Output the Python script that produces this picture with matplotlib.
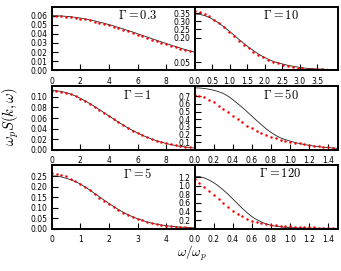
import matplotlib.pyplot as plt

plt.rcParams.update({'font.size': 5.5, 'mathtext.fontset': 'cm'})

# sample positions (omega / omega_p)
x_wide = [0, 0.33, 0.67, 1.0, 1.33, 1.67, 2.0, 2.33, 2.67, 3.0, 3.33, 3.67, 4.0, 4.33, 4.67, 5.0,
          5.33, 5.67, 6.0, 6.33, 6.67, 7.0, 7.33, 7.67, 8.0, 8.33, 8.67, 9.0, 9.33, 9.67, 10.0]
x_g5 = [0, 0.17, 0.33, 0.5, 0.67, 0.83, 1.0, 1.17, 1.33, 1.5, 1.67, 1.83, 2.0, 2.17, 2.33, 2.5,
        2.67, 2.83, 3.0, 3.17, 3.33, 3.5, 3.67, 3.83, 4.0, 4.17, 4.33, 4.5, 4.67, 4.83, 5.0]
x_g10 = [0, 0.14, 0.28, 0.42, 0.56, 0.70, 0.84, 0.98, 1.12, 1.26, 1.40, 1.54, 1.68, 1.82, 1.96,
         2.10, 2.24, 2.38, 2.52, 2.66, 2.80, 2.94, 3.08, 3.22, 3.36, 3.50, 3.64, 3.78, 3.92, 4.06]
x_narrow = [0, 0.05, 0.10, 0.15, 0.20, 0.25, 0.30, 0.35, 0.40, 0.45, 0.50, 0.55, 0.60, 0.65, 0.70,
            0.75, 0.80, 0.85, 0.90, 0.95, 1.00, 1.05, 1.10, 1.15, 1.20, 1.25, 1.30, 1.35, 1.40, 1.45, 1.50]

# Gamma = 0.3
g03_model = [.0600, .0599, .0597, .0593, .0588, .0582, .0574, .0565, .0554, .0543, .0530, .0517, .0502, .0487, .0471, .0455,
             .0437, .0420, .0402, .0384, .0366, .0348, .0330, .0312, .0295, .0277, .0260, .0244, .0228, .0212, .0198]
g03_sim = [.0595, .0594, .0592, .0588, .0583, .0576, .0568, .0559, .0548, .0536, .0523, .0509, .0494, .0478, .0462, .0445,
           .0428, .0410, .0392, .0374, .0356, .0338, .0320, .0303, .0286, .0269, .0253, .0237, .0222, .0207, .0193]
# Gamma = 1
g1_model = [.1120, .1116, .1103, .1082, .1053, .1016, .0974, .0926, .0873, .0818, .0759, .0700, .0640, .0581, .0523, .0467,
            .0414, .0364, .0318, .0276, .0237, .0202, .0171, .0144, .0120, .0099, .0081, .0066, .0053, .0043, .0034]
g1_sim = [.1115, .1112, .1100, .1079, .1049, .1012, .0969, .0920, .0867, .0811, .0752, .0693, .0634, .0575, .0518, .0463,
          .0411, .0362, .0317, .0275, .0237, .0203, .0173, .0146, .0122, .0102, .0084, .0069, .0056, .0046, .0037]
# Gamma = 5
g5_model = [.253, .252, .248, .242, .234, .225, .214, .200, .185, .169, .153, .137, .121, .106, .092, .079,
            .067, .057, .048, .040, .032, .0265, .0215, .0175, .014, .0115, .0095, .0078, .0064, .0053, .0044]
g5_sim = [.265, .263, .258, .250, .240, .228, .214, .199, .183, .166, .149, .133, .117, .102, .088, .076,
          .065, .055, .047, .040, .033, .027, .022, .018, .014, .011, .009, .007, .006, .005, .004]
# Gamma = 10
g10_model = [.345, .3425, .335, .323, .307, .287, .265, .241, .216, .190, .1655, .142, .120, .100, .083,
             .068, .055, .046, .038, .031, .025, .020, .015, .012, .010, .008, .007, .006, .005, .004]
g10_sim = [.360, .356, .346, .330, .310, .287, .262, .235, .208, .182, .157, .134, .113, .095, .079,
           .065, .053, .043, .035, .028, .022, .017, .013, .010, .008, .006, .005, .004, .003, .003]
# Gamma = 50
g50_model = [.810, .808, .802, .792, .778, .760, .737, .700, .655, .605, .553, .497, .440, .382, .328,
             .274, .228, .188, .156, .133, .114, .097, .082, .069, .058, .049, .041, .034, .029, .024, .020]
g50_sim = [.719, .706, .684, .653, .623, .579, .535, .492, .444, .400, .361, .316, .282, .247, .217,
           .194, .172, .150, .132, .118, .106, .094, .084, .074, .064, .055, .047, .040, .034, .029, .025]
# Gamma = 120
g120_model = [1.22, 1.21, 1.18, 1.13, 1.07, .99, .90, .80, .69, .58, .47, .37, .28, .21, .155,
              .11, .08, .057, .043, .032, .025, .020, .016, .014, .012, .011, .010, .009, .009, .008, .008]
g120_sim = [1.15, 1.07, .975, .885, .79, .69, .59, .50, .42, .35, .29, .235, .19, .155, .13,
            .11, .095, .083, .072, .063, .056, .049, .043, .038, .034, .030, .027, .025, .023, .021, .019]


def panel(rect, x, model, sim, label, xlim, ylim, xticks, xlabels, yticks, ylabels):
    ax = fig.add_axes(rect)
    ax.plot(x, model, color='#222222', lw=0.6)
    ax.plot(x, sim, 'o', color='red', ms=1.8, mew=0)
    ax.set_xlim(xlim)
    ax.set_ylim(ylim)
    ax.set_xticks(xticks)
    ax.set_xticklabels(xlabels)
    ax.set_yticks(yticks)
    ax.set_yticklabels(ylabels)
    ax.tick_params(direction='in', length=4, width=0.8, pad=3)
    ax.tick_params(axis='x', pad=4.5)
    for s in ax.spines.values():
        s.set_linewidth(1.4)
    ax.text(0.6, 0.86, label, transform=ax.transAxes, ha='center', va='center', fontsize=9)
    return ax


# === Main ===

fig = plt.figure(figsize=(3.41, 2.71), dpi=100)

w = 0.4194
xl, xr = 0.1516, 0.571
rows = [(0.7406, 0.2351), (0.4472, 0.2343), (0.1561, 0.235)]

wide_ticks = [0, 2, 4, 6, 8]
narrow_ticks = [0.0, 0.2, 0.4, 0.6, 0.8, 1.0, 1.2, 1.4]

panel([xl, rows[0][0], w, rows[0][1]], x_wide, g03_model, g03_sim, r'$\Gamma=0.3$',
      (0, 10), (0, 0.07), wide_ticks, [str(t) for t in wide_ticks],
      [0, .01, .02, .03, .04, .05, .06], ['0.00', '0.01', '0.02', '0.03', '0.04', '0.05', '0.06'])
panel([xl, rows[1][0], w, rows[1][1]], x_wide, g1_model, g1_sim, r'$\Gamma=1$',
      (0, 10), (0, 0.12), wide_ticks, [str(t) for t in wide_ticks],
      [0, .02, .04, .06, .08, .10], ['0.00', '0.02', '0.04', '0.06', '0.08', '0.10'])
panel([xl, rows[2][0], w, rows[2][1]], x_g5, g5_model, g5_sim, r'$\Gamma=5$',
      (0, 5), (0, 0.305), [0, 1, 2, 3, 4], ['0', '1', '2', '3', '4'],
      [0, .05, .10, .15, .20, .25], ['0.00', '0.05', '0.10', '0.15', '0.20', '0.25'])

panel([xr, rows[0][0], w, rows[0][1]], x_g10, g10_model, g10_sim, r'$\Gamma=10$',
      (0, 4.09), (0, 0.39), [0, .5, 1, 1.5, 2, 2.5, 3, 3.5],
      ['0.0', '0.5', '1.0', '1.5', '2.0', '2.5', '3.0', '3.5'],
      [.05, .20, .25, .30, .35], ['0.05', '0.20', '0.25', '0.30', '0.35'])
panel([xr, rows[1][0], w, rows[1][1]], x_narrow, g50_model, g50_sim, r'$\Gamma=50$',
      (0, 1.5), (0, 0.83), narrow_ticks, ['%.1f' % t for t in narrow_ticks],
      [.1, .2, .3, .4, .5, .6, .7], ['0.1', '0.2', '0.3', '0.4', '0.5', '0.6', '0.7'])
panel([xr, rows[2][0], w, rows[2][1]], x_narrow, g120_model, g120_sim, r'$\Gamma=120$',
      (0, 1.5), (0, 1.48), narrow_ticks, ['%.1f' % t for t in narrow_ticks],
      [.2, .4, .6, .8, 1.0, 1.2], ['0.2', '0.4', '0.6', '0.8', '1.0', '1.2'])

fig.text(0.032, 0.57, r'$\omega_p S(k,\omega)$', rotation=90, ha='center', va='center', fontsize=10.5)
fig.text(0.562, 0.064, r'$\omega/\omega_p$', ha='center', va='center', fontsize=9.5)

plt.savefig('out.png', dpi=100)
